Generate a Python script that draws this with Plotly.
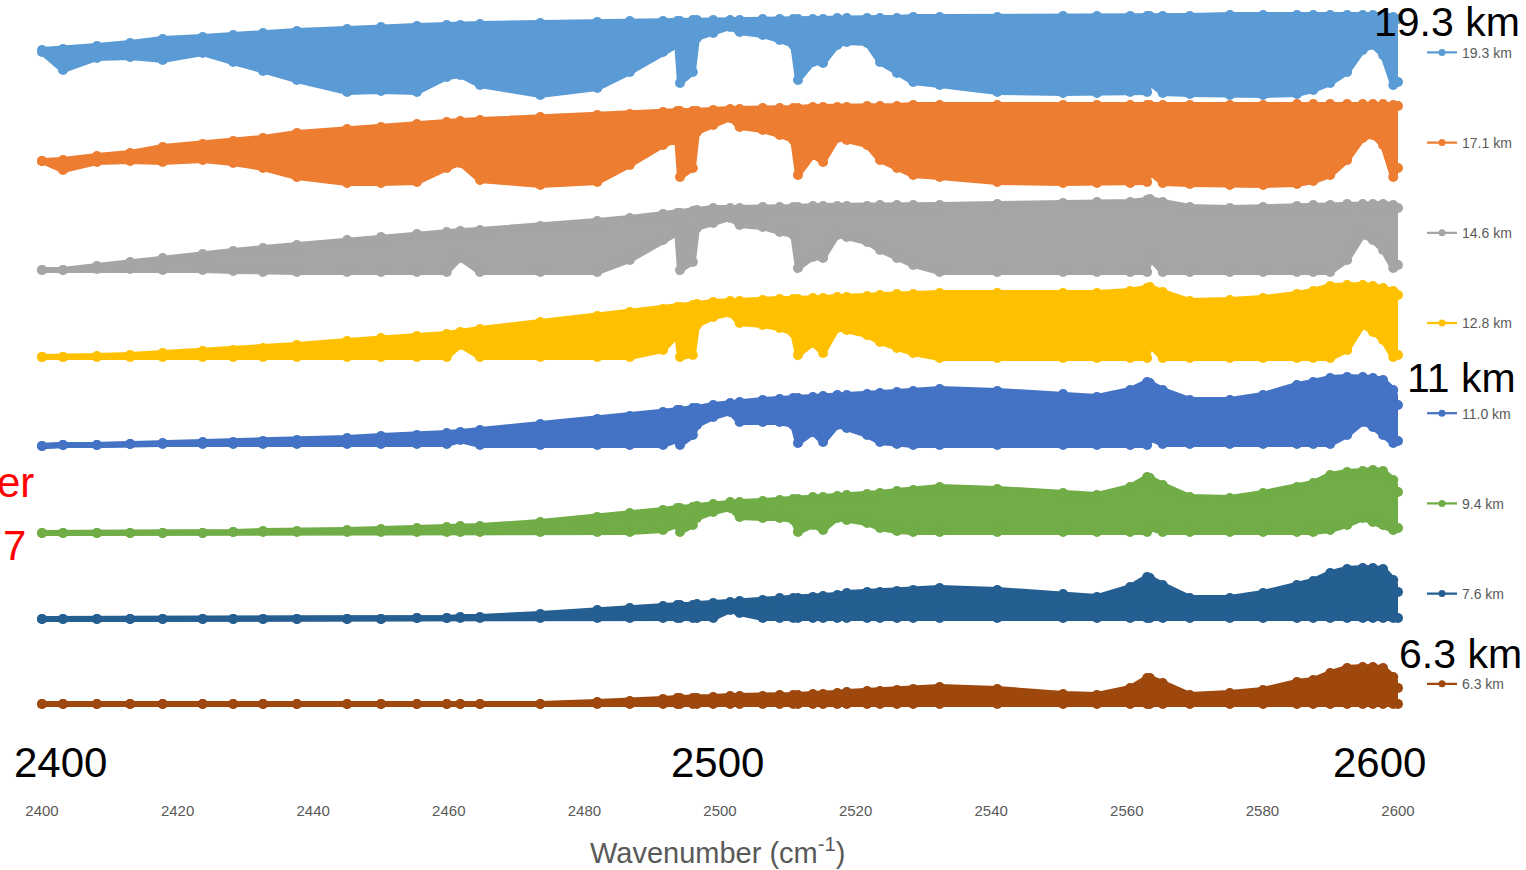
import plotly.graph_objects as go

# Wavenumber grid (cm-1) at which the envelopes were read
WN = [2400, 2403.1, 2408.1, 2413, 2417.8, 2423.7, 2428.2, 2432.6, 2437.6, 2445,
      2450, 2455.3, 2459.7, 2461.7, 2464.6, 2473.5, 2481.9, 2486.7, 2491.6, 2493.7,
      2494.1, 2496, 2496.6, 2499, 2501.5, 2502.9, 2506.3, 2508.8, 2510.8, 2511.5,
      2513.7, 2515.2, 2517.3, 2518.7, 2521.7, 2523.6, 2526.1, 2528.5, 2532.4, 2540.9,
      2550.6, 2555.6, 2560.5, 2563, 2563.4, 2565.3, 2569.3, 2575.2, 2580.1, 2585.1,
      2587.5, 2590, 2592.5, 2594.8, 2596.3, 2597.8, 2599.3, 2600]

# Upper / lower envelopes of each stacked spectrum (display units, larger = lower on the page)
S193_TOP = [50,49,46,43,39,37,35,33,31,29, 27,26,25,25,24,23,22,21,21,21,
            21,20,20,20,20,20,19,19,19,19, 19,19,18,18,18,18,18,17,17,17,
            16,16,16,16,16,16,16,15,15,15, 15,15,15,15,15,15,17,19]
S193_BOT = [52,70,58,57,60,53,62,71,80,92, 91,92,77,75,85,95,88,72,52,45,
            83,72,38,33,27,32,35,40,45,80, 62,63,45,42,43,62,73,82,85,92,
            93,93,92,92,83,93,94,95,95,94, 90,83,72,50,45,55,85,82]
S171_TOP = [161,160,156,153,147,144,141,138,133,129, 127,124,122,121,120,117,115,114,112,111,
            111,111,111,110,109,109,108,108,108,108, 107,107,107,107,106,106,106,105,105,105,
            105,105,105,105,105,105,105,105,105,104, 104,104,104,104,104,104,105,106]
S171_BOT = [161,170,162,161,162,160,163,168,177,183, 183,182,168,163,180,185,182,165,145,140,
            177,168,132,125,118,127,130,135,140,175, 155,162,138,140,145,160,168,175,177,182,
            183,183,183,182,172,183,184,185,185,184, 181,175,160,138,135,145,177,168]
S146_TOP = [270,270,266,262,258,254,251,248,245,240, 237,234,232,231,230,226,221,218,214,213,
            213,211,210,208,208,208,207,207,207,207, 206,206,206,206,206,205,205,205,205,204,
            203,202,202,200,199,202,207,208,207,206, 205,205,204,204,204,204,205,208]
S146_BOT = [270,270,269,269,270,270,271,272,272,272, 272,272,272,258,272,272,272,260,240,233,
            270,262,228,223,218,225,227,232,235,268, 257,258,235,237,242,250,258,265,272,272,
            272,272,272,272,258,272,272,272,272,272, 272,272,260,235,240,250,268,265]
S128_TOP = [357,357,356,355,353,351,350,348,345,341, 338,336,334,332,329,322,316,312,309,307,
            307,305,304,302,301,301,300,299,299,299, 298,298,297,297,296,295,294,294,293,293,
            293,293,291,288,287,292,301,300,298,294, 291,286,285,285,286,288,291,295]
S128_BOT = [357,357,357,357,357,357,357,357,357,357, 357,357,357,345,357,357,357,357,350,335,
            357,355,325,317,313,323,325,328,333,355, 343,353,328,330,335,342,348,353,358,358,
            358,358,358,358,345,358,358,358,358,358, 358,358,350,325,332,340,357,355]
S110_TOP = [446,445,445,444,443,442,442,441,440,438, 436,435,433,432,430,424,419,416,412,410,
            410,408,408,405,403,402,400,399,398,398, 397,396,395,395,394,393,392,391,389,391,
            394,397,390,382,383,390,400,400,395,385, 382,378,377,377,378,380,390,405]
S110_BOT = [446,445,445,444,444,444,444,444,444,444, 444,444,444,440,445,445,445,445,445,440,
            445,435,425,417,412,422,422,422,425,443, 432,442,425,428,435,442,444,445,445,445,
            445,445,445,445,438,444,444,444,444,444, 444,444,435,422,427,435,443,441]
S94_TOP = [533,533,533,533,533,533,532,531,531,530, 529,528,527,526,526,522,517,513,510,508,
           508,507,506,504,502,502,501,500,499,499, 497,497,496,495,494,493,491,490,487,489,
           493,495,487,477,478,485,497,498,493,487, 483,475,472,471,470,471,480,492]
S94_BOT = [533,533,533,533,533,533,532,532,532,532, 532,532,532,532,532,532,532,532,530,525,
           532,525,518,512,508,517,518,518,520,532, 525,530,518,520,523,528,531,532,532,532,
           532,532,532,532,528,532,532,532,532,532, 532,530,525,518,522,525,530,528]
S76_TOP = [619,619,619,619,619,619,619,619,619,619, 619,618,618,617,617,614,610,608,606,605,
           605,605,604,603,602,601,600,598,598,598, 597,596,595,593,592,592,591,590,588,590,
           594,597,587,577,578,585,598,598,593,585, 581,573,569,568,568,569,580,592]
S76_BOT = [619,619,619,619,619,619,619,619,619,619, 619,618,618,618,618,618,618,618,618,618,
           618,618,618,618,610,613,618,618,618,618, 618,618,618,618,618,618,618,618,618,618,
           618,618,618,618,618,618,618,618,618,618, 618,618,618,618,618,618,618,618]
S63_TOP = [704,704,704,704,704,704,704,704,704,704, 704,704,704,704,704,704,702,701,699,698,
           698,698,698,697,696,696,696,695,695,695, 694,694,693,692,691,691,690,689,687,689,
           694,695,688,678,678,683,695,693,690,682, 680,673,668,667,667,668,677,688]
S63_BOT = [704,704,704,704,704,704,704,704,704,704, 704,704,704,704,704,704,704,704,704,704,
           704,704,704,704,704,704,704,704,704,704, 704,704,704,704,704,704,704,704,704,704,
           704,704,704,704,704,704,704,704,704,704, 704,704,704,704,704,704,704,704]

NAMES = ["19.3 km", "17.1 km", "14.6 km", "12.8 km", "11.0 km", "9.4 km", "7.6 km", "6.3 km"]
COLORS = ["#5B9BD5", "#ED7D31", "#A5A5A5", "#FFC000", "#4472C4", "#70AD47", "#255E91", "#9E480E"]
TOPS = [S193_TOP, S171_TOP, S146_TOP, S128_TOP, S110_TOP, S94_TOP, S76_TOP, S63_TOP]
BOTS = [S193_BOT, S171_BOT, S146_BOT, S128_BOT, S110_BOT, S94_BOT, S76_BOT, S63_BOT]

XTICKS = [2400, 2420, 2440, 2460, 2480, 2500, 2520, 2540, 2560, 2580, 2600]

fig = go.Figure()

for name, col, top, bot in zip(NAMES, COLORS, TOPS, BOTS):
    assert len(top) == len(WN) and len(bot) == len(WN), name
    fig.add_trace(go.Scatter(x=WN, y=bot, mode="lines+markers", showlegend=False,
                             line=dict(color=col, width=6), marker=dict(color=col, size=10),
                             cliponaxis=False, hoverinfo="skip"))
    fig.add_trace(go.Scatter(x=WN, y=top, mode="lines+markers", showlegend=False,
                             fill="tonexty", fillcolor=col,
                             line=dict(color=col, width=6), marker=dict(color=col, size=10),
                             cliponaxis=False, hoverinfo="skip"))

for name, col in zip(NAMES, COLORS):
    fig.add_trace(go.Scatter(x=[None], y=[None], mode="lines+markers", name=name,
                             legendgroup=name, line=dict(color=col, width=2.25),
                             marker=dict(color=col, size=7)))

FONT = "Liberation Sans, Arial, sans-serif"
BIG = dict(family=FONT, size=42, color="black")
SIDE = dict(family=FONT, size=41, color="black")
RED = dict(family=FONT, size=42, color="red")
ann = [
    dict(text="2400", x=0.0133, y=0.0475, font=BIG),
    dict(text="2500", x=0.4978, y=0.0475, font=BIG),
    dict(text="2600", x=0.9867, y=0.0475, font=BIG),
    dict(text="19.3 km", x=1.0365, y=0.9725, font=SIDE),
    dict(text="11 km", x=1.047, y=0.5275, font=SIDE),
    dict(text="6.3 km", x=1.046, y=0.183, font=SIDE),
    dict(text="er", x=-0.0044, y=0.3975, xanchor="right", font=RED),
    dict(text="7", x=-0.0103, y=0.31875, xanchor="right", font=RED),
    dict(text="Wavenumber (cm<sup>-1</sup>)", x=0.4985, y=-0.064,
         font=dict(family=FONT, size=29, color="#595959")),
]
for a in ann:
    a.setdefault("xanchor", "center")
    fig.add_annotation(xref="paper", yref="paper", showarrow=False, yanchor="middle", **a)

fig.update_layout(
    width=1526, height=870,
    margin=dict(l=42, r=128, t=0, b=70, autoexpand=False),
    paper_bgcolor="white", plot_bgcolor="white",
    showlegend=True,
    legend=dict(x=1.0177, y=0.954, xanchor="left", yanchor="top",
                font=dict(family=FONT, size=14, color="#595959"),
                tracegroupgap=69, bgcolor="rgba(0,0,0,0)", itemwidth=30),
    xaxis=dict(range=[2400, 2600], tickvals=XTICKS, showgrid=False, zeroline=False,
               showline=False, ticks="",
               tickfont=dict(family=FONT, size=15, color="#595959")),
    yaxis=dict(range=[800, 0], visible=False, showgrid=False, zeroline=False),
)

# Remove the page's default 8 px body margin so the 1526x870 figure fills the window.
fig.write_html("out.html",
               config={"displayModeBar": False},
               post_script="document.body.style.margin='0px';document.body.style.overflow='hidden';")
